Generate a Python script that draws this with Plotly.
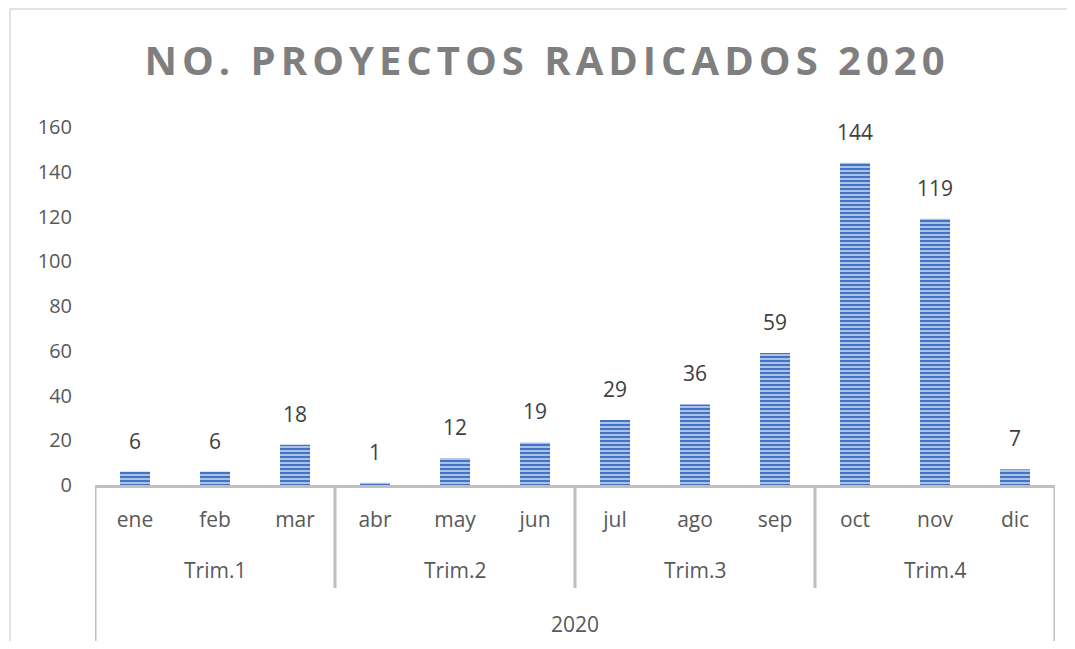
import plotly.graph_objects as go

months = ["ene", "feb", "mar", "abr", "may", "jun", "jul", "ago", "sep", "oct", "nov", "dic"]
trims = ["Trim.1"] * 3 + ["Trim.2"] * 3 + ["Trim.3"] * 3 + ["Trim.4"] * 3
year_label = "2020"
values = [6, 6, 18, 1, 12, 19, 29, 36, 59, 144, 119, 7]
y_ticks = [0, 20, 40, 60, 80, 100, 120, 140, 160]
title_text = "NO. PROYECTOS RADICADOS 2020"

OFF = 8  # page body margin offset
W, H = 1075 - 2 * OFF, 649 - 2 * OFF
# target screen positions: plot left 95, right 1055, top 127, bottom 485
ML = 95 - OFF
MT = 127 - OFF
MR = W - (1055 - OFF)
MB = H - (485 - OFF)
plot_h = H - MT - MB
plot_w = W - ML - MR

def py(px):  # screen pixel row -> paper y
    return (H - MB - (px - OFF)) / plot_h

def pxp(px):  # screen pixel col -> paper x
    return ((px - OFF) - ML) / plot_w

AXIS = "#BFBFBF"
TICK = "#595959"
LABEL = "#404040"
FONT = "Open Sans"

fig = go.Figure()
fig.add_trace(go.Bar(
    x=months, y=values,
    width=0.375,
    marker=dict(
        color="#A9C3E8",
        line=dict(width=0),
        pattern=dict(shape="-", fgcolor="#4472C4", bgcolor="#A9C3E8",
                     size=4, solidity=0.5, fillmode="replace"),
    ),
    hoverinfo="x+y",
))

# data labels
for m, v in zip(months, values):
    fig.add_annotation(x=m, y=v, text=str(v), showarrow=False, yanchor="bottom",
                       yshift=15, font=dict(family=FONT, size=21, color=LABEL))

# group labels and separators computed from the category lists
groups = []
for i, t in enumerate(trims):
    if not groups or groups[-1][0] != t:
        groups.append([t, i, i])
    else:
        groups[-1][2] = i

for t, a, b in groups:
    fig.add_annotation(x=(a + b) / 2, y=py(570), xref="x", yref="paper", text=t,
                       showarrow=False, yanchor="middle",
                       font=dict(family=FONT, size=21, color=TICK))

for k, (t, a, b) in enumerate(groups):
    if k > 0:
        fig.add_shape(type="line", xref="x", yref="paper", x0=a - 0.5, x1=a - 0.5,
                      y0=0, y1=py(588), line=dict(color=AXIS, width=3))

for xe in (-0.5, len(months) - 0.5):
    fig.add_shape(type="line", xref="x", yref="paper", x0=xe, x1=xe,
                  y0=0, y1=py(670), line=dict(color=AXIS, width=3))

fig.add_annotation(x=(len(months) - 1) / 2, y=py(624), xref="x", yref="paper",
                   text=year_label, showarrow=False, yanchor="middle",
                   font=dict(family=FONT, size=21, color=TICK))

# chart area border (only top & left edges visible in reference)
fig.add_shape(type="line", xref="paper", yref="paper", x0=pxp(10), x1=pxp(1100),
              y0=py(9), y1=py(9), line=dict(color="#D9D9D9", width=1.5), layer="below")
fig.add_shape(type="line", xref="paper", yref="paper", x0=pxp(10), x1=pxp(10),
              y0=py(9), y1=py(720), line=dict(color="#D9D9D9", width=1.5), layer="below")

fig.update_layout(
    width=W, height=H,
    margin=dict(l=ML, r=MR, t=MT, b=MB, autoexpand=False),
    paper_bgcolor="white", plot_bgcolor="white",
    showlegend=False,
    bargap=0.625,
    title=dict(
        text='<span style="letter-spacing:5px">' + title_text + '</span>',
        x=pxp(547), xref="paper", xanchor="center",
        y=1 - (61 - OFF) / H, yref="container", yanchor="middle",
        font=dict(family=FONT, size=40, color="#7F7F7F", weight="bold"),
    ),
    xaxis=dict(
        type="category", categoryarray=months, categoryorder="array",
        range=[-0.5, len(months) - 0.5],
        showline=True, linecolor=AXIS, linewidth=3,
        ticks="", showgrid=False, zeroline=False,
        tickfont=dict(family=FONT, size=21, color=TICK),
        ticklabelstandoff=14,
    ),
    yaxis=dict(
        range=[0, 160], tickvals=y_ticks,
        showline=False, showgrid=False, zeroline=False, ticks="",
        tickfont=dict(family=FONT, size=20, color=TICK),
        ticklabelstandoff=22,
    ),
)

fig.write_html("out.html")
